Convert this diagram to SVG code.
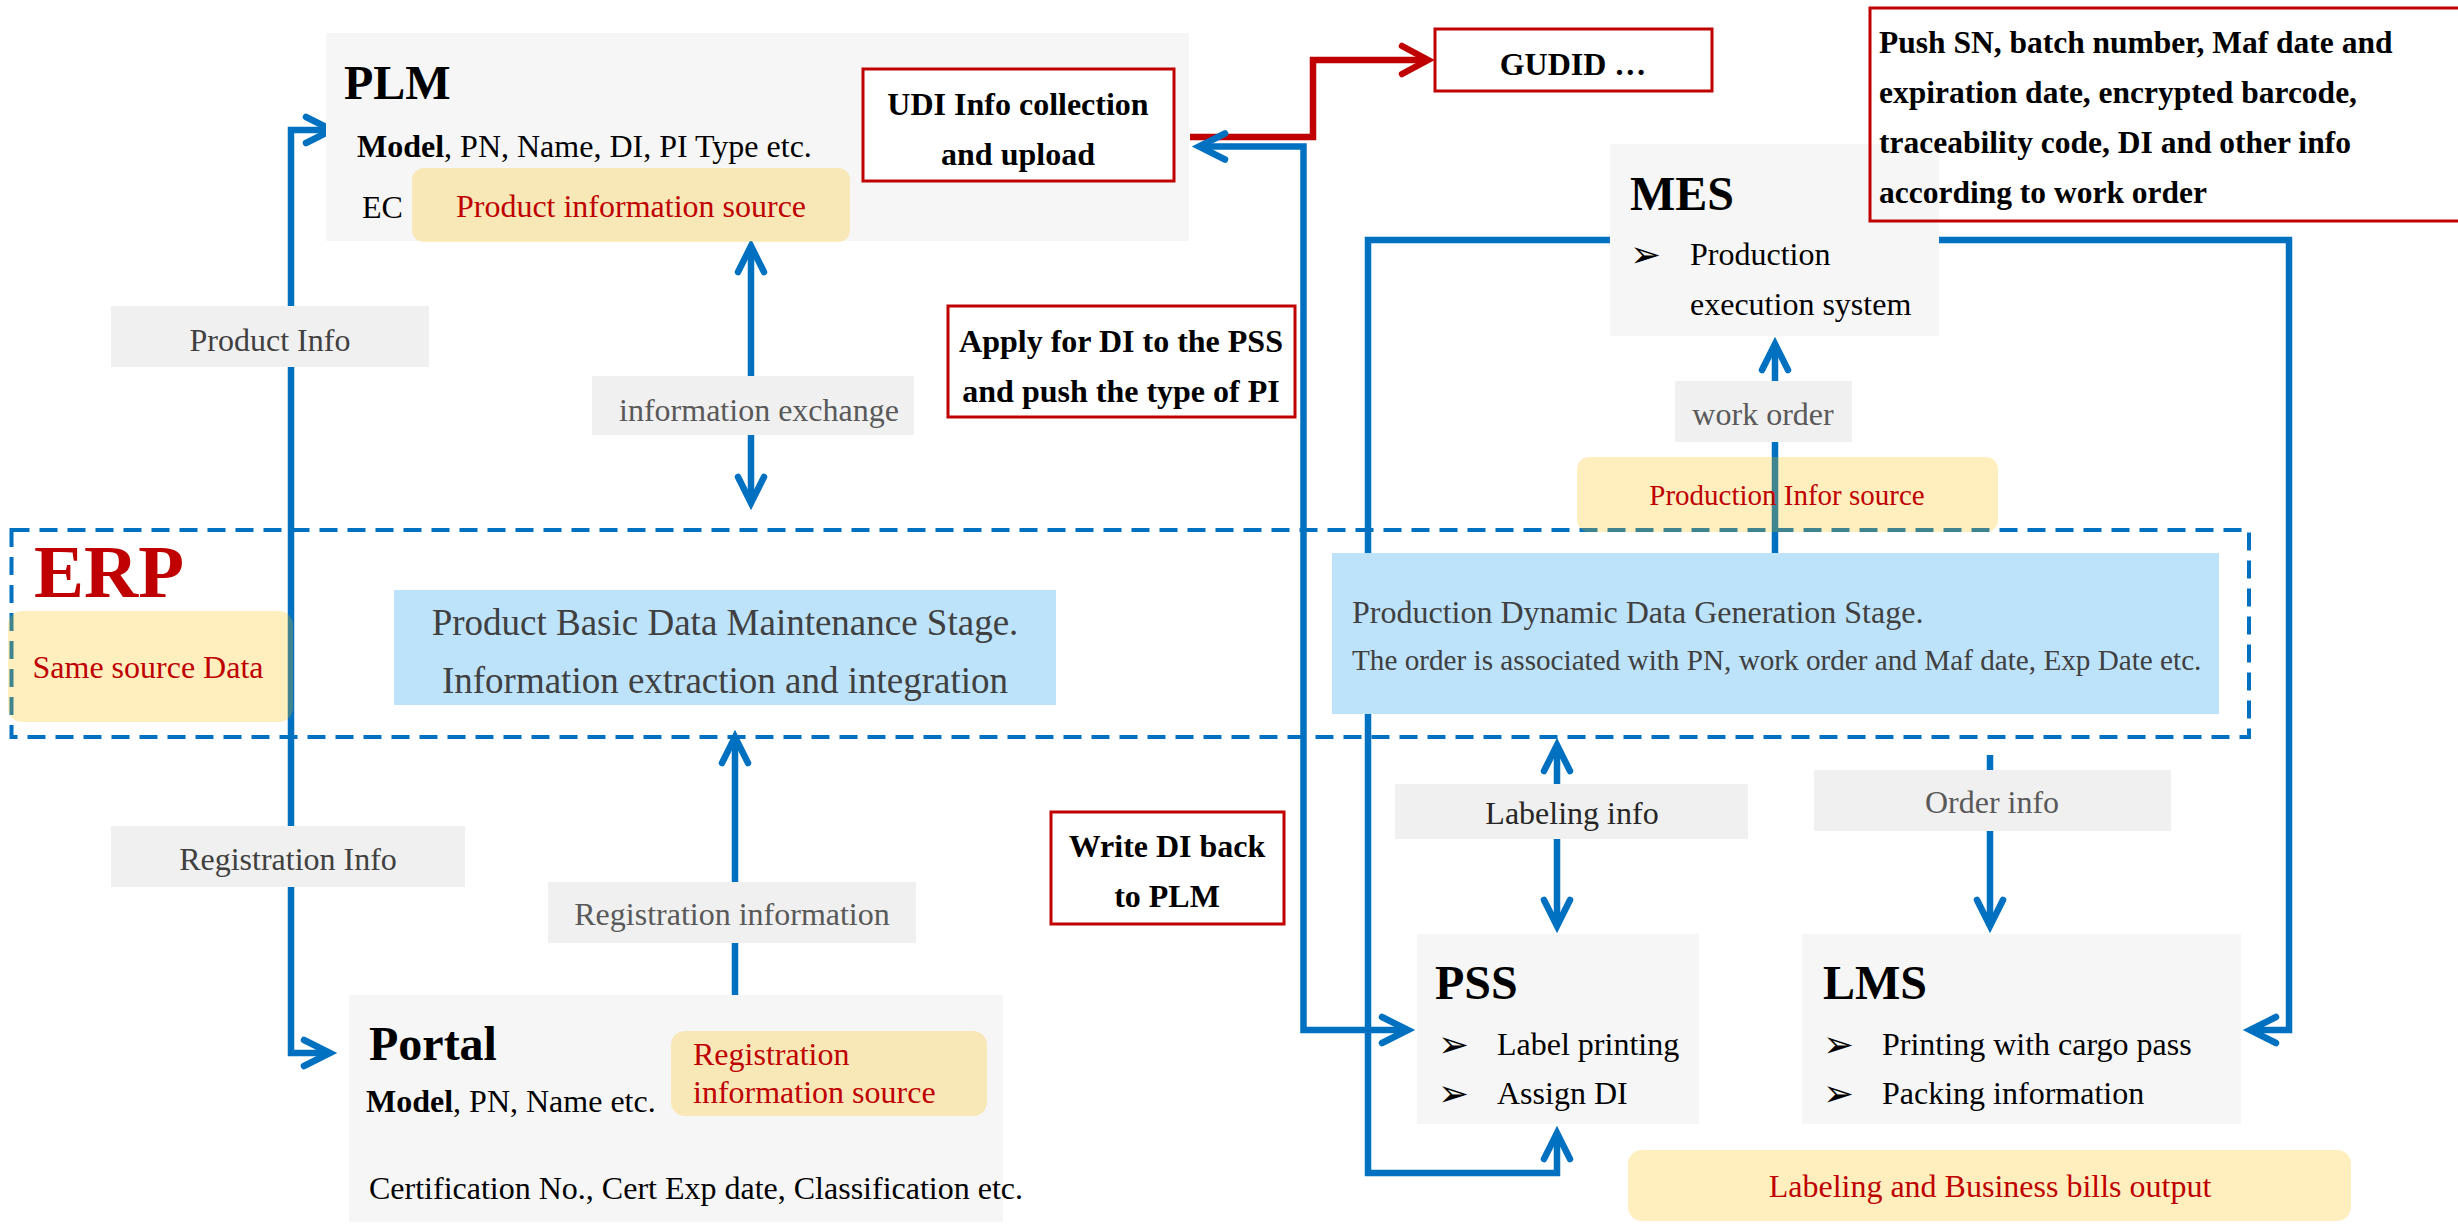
<svg xmlns="http://www.w3.org/2000/svg" width="2458" height="1225" viewBox="0 0 2458 1225">
  <style>
    text { font-family: "Liberation Serif", "Times New Roman", serif; }
    .node { fill: #F6F6F6; }
    .tag { fill: #F0F0F0; }
    .note { fill: #FFC000; fill-opacity: 0.25; }
    .stage { fill: #BDE3FB; }
    .redbox { fill: #FFFFFF; stroke: #C00000; stroke-width: 3; }
    .title { font-size: 48px; font-weight: bold; fill: #000; }
    .body { font-size: 32px; fill: #000; }
    .bold { font-size: 32px; font-weight: bold; fill: #000; }
    .red { font-size: 32px; fill: #C00000; }
    .grey { font-size: 32px; fill: #404040; }
    .lgrey { font-size: 32px; fill: #595959; }
    .bullet { font-family: "DejaVu Sans", sans-serif; font-size: 37px; fill: #000; }
    .wire { fill: none; stroke: #0070C0; stroke-width: 6.5; }
    .wire-red { fill: none; stroke: #C00000; stroke-width: 6.5; }
  </style>
  <defs>
    <marker id="ah" markerUnits="userSpaceOnUse" orient="auto-start-reverse" refX="0" refY="0" markerWidth="60" markerHeight="60" viewBox="-40 -30 60 60" overflow="visible">
      <path d="M-26,-13 L0,0 L-26,13" fill="none" stroke="#0070C0" stroke-width="6.5" stroke-linecap="round" stroke-linejoin="miter"/>
    </marker>
    <marker id="ah-red" markerUnits="userSpaceOnUse" orient="auto" refX="0" refY="0" markerWidth="60" markerHeight="60" viewBox="-40 -30 60 60" overflow="visible">
      <path d="M-26,-14 L0,0 L-26,14" fill="none" stroke="#C00000" stroke-width="6.5" stroke-linecap="round" stroke-linejoin="miter"/>
    </marker>
  </defs>

  <rect width="2458" height="1225" fill="#FFFFFF"/>

  <!-- ERP container -->
  <g id="erp">
    <rect x="11.5" y="530" width="2237.5" height="207" fill="none" stroke="#0070C0" stroke-width="4" stroke-dasharray="18 10"/>
    <text x="34" y="597" style="font-size:75px;font-weight:bold;fill:#C00000">ERP</text>
  </g>

  <!-- connectors -->
  <g id="connectors">
    <path class="wire" d="M332,130 H291 V1053 H330" marker-start="url(#ah)" marker-end="url(#ah)"/>
    <path class="wire" d="M751,246 V503" marker-start="url(#ah)" marker-end="url(#ah)"/>
    <path class="wire" d="M735,995 V737" marker-end="url(#ah)"/>
    <path class="wire-red" d="M1190,137 H1313 V60 H1428" marker-end="url(#ah-red)"/>
    <path class="wire" d="M1199,146.5 H1303.5 V1030 H1408" marker-start="url(#ah)" marker-end="url(#ah)"/>
    <path class="wire" d="M1610,240 H1368 V1173 H1557 V1133" marker-end="url(#ah)"/>
    <path class="wire" d="M1939,240 H2289 V1030 H2250" marker-end="url(#ah)"/>
    <path class="wire" d="M1775,553 V344" marker-end="url(#ah)"/>
    <path class="wire" d="M1557,745 V926" marker-start="url(#ah)" marker-end="url(#ah)"/>
    <path class="wire" d="M1990,755 V926" marker-end="url(#ah)"/>
  </g>

  <!-- connector labels -->
  <g id="label-product-info">
    <rect class="tag" x="111" y="306" width="318" height="61"/>
    <text class="grey" x="270" y="351" text-anchor="middle">Product Info</text>
  </g>
  <g id="label-information-exchange">
    <rect class="tag" x="592" y="376" width="322" height="59"/>
    <text class="lgrey" x="759" y="421" text-anchor="middle">information exchange</text>
  </g>
  <g id="label-registration-info">
    <rect class="tag" x="111" y="826" width="354" height="61"/>
    <text class="grey" x="288" y="870" text-anchor="middle">Registration Info</text>
  </g>
  <g id="label-registration-information">
    <rect class="tag" x="548" y="882" width="368" height="61"/>
    <text class="lgrey" x="732" y="925" text-anchor="middle">Registration information</text>
  </g>
  <g id="label-work-order">
    <rect class="tag" x="1675" y="381" width="177" height="61"/>
    <text class="lgrey" x="1763" y="425" text-anchor="middle">work order</text>
  </g>
  <g id="label-labeling-info">
    <rect class="tag" x="1395" y="784" width="353" height="55"/>
    <text class="body" x="1572" y="824" text-anchor="middle" style="fill:#262626">Labeling info</text>
  </g>
  <g id="label-order-info">
    <rect class="tag" x="1814" y="770" width="357" height="61"/>
    <text class="lgrey" x="1992" y="813" text-anchor="middle">Order info</text>
  </g>

  <!-- PLM -->
  <g id="plm">
    <rect class="node" x="326" y="33" width="863" height="208"/>
    <text class="title" x="344" y="99">PLM</text>
    <text class="body" x="357" y="157"><tspan font-weight="bold">Model</tspan>, PN, Name, DI, PI Type etc.</text>
    <text class="body" x="362" y="218">EC</text>
    <rect class="note" x="412" y="168" width="438" height="74" rx="12"/>
    <text class="red" x="631" y="217" text-anchor="middle">Product information source</text>
  </g>
  <g id="udi-upload">
    <rect class="redbox" x="863" y="69" width="311" height="112"/>
    <text class="bold" x="1018" y="115" text-anchor="middle">UDI Info collection</text>
    <text class="bold" x="1018" y="165" text-anchor="middle">and upload</text>
  </g>
  <g id="gudid">
    <rect class="redbox" x="1435" y="29" width="277" height="62"/>
    <text class="bold" x="1573" y="75" text-anchor="middle">GUDID …</text>
  </g>
  <g id="apply-di">
    <rect class="redbox" x="948" y="306" width="347" height="111"/>
    <text class="bold" x="1121" y="352" text-anchor="middle">Apply for DI to the PSS</text>
    <text class="bold" x="1121" y="402" text-anchor="middle">and push the type of PI</text>
  </g>
  <g id="write-di">
    <rect class="redbox" x="1051" y="812" width="233" height="112"/>
    <text class="bold" x="1167" y="857" text-anchor="middle">Write DI back</text>
    <text class="bold" x="1167" y="907" text-anchor="middle">to PLM</text>
  </g>

  <!-- MES -->
  <g id="mes">
    <rect class="node" x="1610" y="144" width="329" height="192"/>
    <text class="title" x="1630" y="210">MES</text>
    <text class="bullet" x="1630" y="267">➢</text>
    <text class="body" x="1690" y="265">Production</text>
    <text class="body" x="1690" y="315">execution system</text>
  </g>
  <g id="push-sn">
    <rect x="1870" y="8" width="600" height="213" fill="none" stroke="#C00000" stroke-width="3"/>
    <text class="bold" x="1879" y="53" style="font-size:31.5px">Push SN, batch number, Maf date and</text>
    <text class="bold" x="1879" y="103" style="font-size:31.5px">expiration date, encrypted barcode,</text>
    <text class="bold" x="1879" y="153" style="font-size:31.5px">traceability code, DI and other info</text>
    <text class="bold" x="1879" y="203" style="font-size:31.5px">according to work order</text>
  </g>
  <g id="production-source">
    <rect class="note" x="1577" y="457" width="421" height="75" rx="12"/>
    <text class="red" x="1787" y="505" text-anchor="middle" style="font-size:29px">Production Infor source</text>
  </g>

  <!-- ERP stages -->
  <g id="same-source">
    <rect class="note" x="8" y="611" width="285" height="111" rx="14"/>
    <text class="red" x="148" y="678" text-anchor="middle">Same source Data</text>
  </g>
  <g id="basic-stage">
    <rect class="stage" x="394" y="590" width="662" height="115"/>
    <text x="725" y="635" text-anchor="middle" style="font-size:37px;fill:#404040">Product Basic Data Maintenance Stage.</text>
    <text x="725" y="693" text-anchor="middle" style="font-size:37px;fill:#404040">Information extraction and integration</text>
  </g>
  <g id="dynamic-stage">
    <rect class="stage" x="1332" y="553" width="887" height="161"/>
    <text class="grey" x="1352" y="623">Production Dynamic Data Generation Stage.</text>
    <text x="1352" y="670" style="font-size:29.2px;fill:#404040">The order is associated with PN, work order and Maf date, Exp Date etc.</text>
  </g>

  <!-- Portal -->
  <g id="portal">
    <rect class="node" x="349" y="995" width="654" height="227"/>
    <text class="title" x="369" y="1060">Portal</text>
    <text class="body" x="366" y="1112"><tspan font-weight="bold">Model</tspan>, PN, Name etc.</text>
    <rect class="note" x="671" y="1031" width="316" height="85" rx="14"/>
    <text class="red" x="693" y="1065">Registration</text>
    <text class="red" x="693" y="1103">information source</text>
    <text class="body" x="369" y="1199">Certification No., Cert Exp date, Classification etc.</text>
  </g>

  <!-- PSS -->
  <g id="pss">
    <rect class="node" x="1417" y="934" width="282" height="190"/>
    <text class="title" x="1435" y="999">PSS</text>
    <text class="bullet" x="1438" y="1057">➢</text>
    <text class="body" x="1497" y="1055">Label printing</text>
    <text class="bullet" x="1438" y="1106">➢</text>
    <text class="body" x="1497" y="1104">Assign DI</text>
  </g>

  <!-- LMS -->
  <g id="lms">
    <rect class="node" x="1802" y="934" width="439" height="190"/>
    <text class="title" x="1823" y="999">LMS</text>
    <text class="bullet" x="1823" y="1057">➢</text>
    <text class="body" x="1882" y="1055">Printing with cargo pass</text>
    <text class="bullet" x="1823" y="1106">➢</text>
    <text class="body" x="1882" y="1104">Packing information</text>
  </g>
  <g id="bills-output">
    <rect class="note" x="1628" y="1150" width="723" height="71" rx="14"/>
    <text class="red" x="1990" y="1197" text-anchor="middle">Labeling and Business bills output</text>
  </g>
</svg>
